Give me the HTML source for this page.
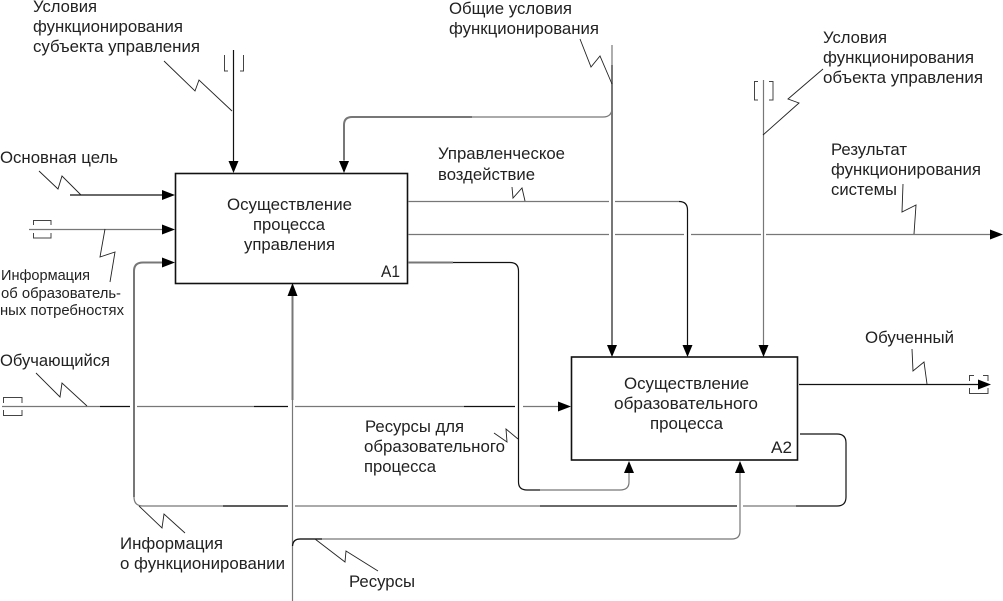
<!DOCTYPE html>
<html><head><meta charset="utf-8"><style>
html,body{margin:0;padding:0;background:#fff}
svg{display:block}
text{font-family:"Liberation Sans",sans-serif;font-size:16.8px;fill:#222}
.s{font-size:14.7px}
.l{fill:none;stroke:#111;stroke-width:1.2}
.g{fill:none;stroke:#777;stroke-width:1.2}
.t{fill:none;stroke:#777;stroke-width:2}
.q{fill:none;stroke:#222;stroke-width:.9}
.b{fill:none;stroke:#444;stroke-width:1}
</style></head><body>
<svg width="1003" height="601" viewBox="0 0 1003 601" xmlns="http://www.w3.org/2000/svg">
<rect x="175.500" y="173.500" width="232" height="110" fill="#fff" stroke="#111" stroke-width="1.6"/>
<rect x="571.500" y="357" width="226" height="103" fill="#fff" stroke="#111" stroke-width="1.6"/>

<!-- connectors -->
<path class="l" d="M233.500 50V161"/>
<path class="l" d="M70 195H164"/>
<path class="g" d="M29 229.500H164"/>
<path class="t" d="M164 262.500H143Q134 262.500 134 271V497"/>
<path class="g" d="M134 497Q134 506 143 506H288"/>
<path class="l" d="M223 506H288"/>
<path class="g" d="M295 506H540"/>
<path class="l" d="M540 506H737"/>
<path class="g" d="M743 506H796"/>
<path class="l" d="M796 506H837Q846 506 846 497V443Q846 434 837 434H800"/>
<path class="g" d="M2 406.500H100"/>
<path class="l" d="M100 406.500H130"/>
<path class="g" d="M137 406.500H254"/>
<path class="l" d="M254 406.500H288"/>
<path class="g" d="M295 406.500H464"/>
<path class="l" d="M464 406.500H515"/>
<path class="g" d="M523 406.500H560"/>
<path class="g" d="M292.500 601V296"/>
<path class="t" d="M292.500 400V296"/>
<path class="g" d="M292.500 546Q293 539 300 539H732Q740 539 740 531V473"/>
<path class="l" d="M292.500 546Q293 539 300 539H322"/>
<path class="g" d="M612 45V345"/>
<path class="t" d="M612 65V345"/>
<path class="g" d="M612 108Q612 117 603 117H352Q344 117 344 125V161"/>
<path class="t" d="M344 160V125Q344 117 352 117H472"/>
<path class="g" d="M408 201.500H609M615 201.500H679"/>
<path class="l" d="M679 201.500Q687.500 201.500 687.500 210V345"/>
<path class="g" d="M408 234.500H609M615 234.500H684M691 234.500H761M766 234.500H992"/>
<path class="t" d="M408 262.500H453"/>
<path class="l" d="M453 262.500H510Q518.500 262.500 518.500 271V482Q518.500 490 527 490H540"/>
<path class="g" d="M540 490H620Q629 490 629 482V473"/>
<path class="g" d="M763.500 80V345"/>
<path class="l" d="M799 384.500H980"/>

<!-- arrowheads -->
<g fill="#000">
<path d="M228.500 161H238.500L233.500 173Z"/>
<path d="M339 161H349L344 173Z"/>
<path d="M607 345H617L612 357Z"/>
<path d="M682.500 345H692.500L687.500 357Z"/>
<path d="M758.500 345H768.500L763.500 357Z"/>
<path d="M162 190V200L175 195Z"/>
<path d="M162 224.500V234.500L175 229.500Z"/>
<path d="M162 257.500V267.500L175 262.500Z"/>
<path d="M558 401.500V411.500L571 406.500Z"/>
<path d="M287.500 296H297.500L292.500 283Z"/>
<path d="M624 473H634L629 461Z"/>
<path d="M735 473H745L740 461Z"/>
<path d="M990 229.500V239.500L1003 234.500Z"/>
<path d="M978 379.500V389.500L991 384.500Z"/>
</g>

<!-- tunnels -->
<path class="b" d="M224.500 55V71H228M243.500 55V71H240"/>
<path class="b" d="M33.500 225V220.500H51V225M33.500 233V238H51V233"/>
<path class="b" d="M3.500 403V397.500H22V403M3.500 410V415.500H22V410"/>
<path class="b" d="M758 81.500H754.500V100H758M769 81.500H773V100H769"/>
<path class="b" d="M974 375.500H969.500V381M983 375.500H988V381M969.500 388V393.500H988V388"/>

<!-- squiggles -->
<path class="q" d="M164 61L195 91L199 80L232 111"/>
<path class="q" d="M39 171L58 189L62 176L81 195"/>
<path class="q" d="M105 229L100 257L115 252L110 282"/>
<path class="q" d="M36 373L60 397L62 383L87 406"/>
<path class="q" d="M139 506L162 528L164 514L185 533"/>
<path class="q" d="M315 539L345 562L346 551L378 571"/>
<path class="q" d="M580 39L591 67L600 56L612 84"/>
<path class="q" d="M512 187L513 198L522 188L525 201"/>
<path class="q" d="M494 433L507 442L506 429L518 439"/>
<path class="q" d="M823 69L788 99L799 103L763 135"/>
<path class="q" d="M903 184L902 212L916 205L914 234"/>
<path class="q" d="M912 349L913 371L924 362L927 384"/>

<!-- labels -->
<g lengthAdjust="spacingAndGlyphs">
<text x="33" y="12" textLength="64" lengthAdjust="spacingAndGlyphs">Условия</text>
<text x="33" y="32" textLength="150" lengthAdjust="spacingAndGlyphs">функционирования</text>
<text x="33" y="52" textLength="167" lengthAdjust="spacingAndGlyphs">субъекта управления</text>
<text x="0" y="163" textLength="118" lengthAdjust="spacingAndGlyphs">Основная цель</text>
<text class="s" x="1" y="280" textLength="89" lengthAdjust="spacingAndGlyphs">Информация</text>
<text class="s" x="1" y="298" textLength="120" lengthAdjust="spacingAndGlyphs">об образователь-</text>
<text class="s" x="0" y="315" textLength="124" lengthAdjust="spacingAndGlyphs">ных потребностях</text>
<text x="0" y="366" textLength="110" lengthAdjust="spacingAndGlyphs">Обучающийся</text>
<text x="120" y="549" textLength="103" lengthAdjust="spacingAndGlyphs">Информация</text>
<text x="120" y="569" textLength="165" lengthAdjust="spacingAndGlyphs">о функционировании</text>
<text x="349" y="587" textLength="66" lengthAdjust="spacingAndGlyphs">Ресурсы</text>
<text x="365" y="432" textLength="99" lengthAdjust="spacingAndGlyphs">Ресурсы для</text>
<text x="364" y="452" textLength="141" lengthAdjust="spacingAndGlyphs">образовательного</text>
<text x="364" y="472" textLength="72" lengthAdjust="spacingAndGlyphs">процесса</text>
<text x="227" y="210" textLength="125" lengthAdjust="spacingAndGlyphs">Осуществление</text>
<text x="253" y="230" textLength="72" lengthAdjust="spacingAndGlyphs">процесса</text>
<text x="244" y="250" textLength="91" lengthAdjust="spacingAndGlyphs">управления</text>
<text x="381" y="277" textLength="19" lengthAdjust="spacingAndGlyphs">А1</text>
<text x="624" y="389" textLength="125" lengthAdjust="spacingAndGlyphs">Осуществление</text>
<text x="614" y="409" textLength="144" lengthAdjust="spacingAndGlyphs">образовательного</text>
<text x="650" y="429" textLength="73" lengthAdjust="spacingAndGlyphs">процесса</text>
<text x="771" y="453" textLength="21" lengthAdjust="spacingAndGlyphs">А2</text>
<text x="449" y="14" textLength="123" lengthAdjust="spacingAndGlyphs">Общие условия</text>
<text x="449" y="34" textLength="150" lengthAdjust="spacingAndGlyphs">функционирования</text>
<text x="438" y="159" textLength="127" lengthAdjust="spacingAndGlyphs">Управленческое</text>
<text x="438" y="180" textLength="97" lengthAdjust="spacingAndGlyphs">воздействие</text>
<text x="823" y="43" textLength="64" lengthAdjust="spacingAndGlyphs">Условия</text>
<text x="823" y="63" textLength="151" lengthAdjust="spacingAndGlyphs">функционирования</text>
<text x="823" y="83" textLength="160" lengthAdjust="spacingAndGlyphs">объекта управления</text>
<text x="831" y="155" textLength="76" lengthAdjust="spacingAndGlyphs">Результат</text>
<text x="831" y="175" textLength="150" lengthAdjust="spacingAndGlyphs">функционирования</text>
<text x="831" y="195" textLength="66" lengthAdjust="spacingAndGlyphs">системы</text>
<text x="865" y="343" textLength="89" lengthAdjust="spacingAndGlyphs">Обученный</text>
</g>
</svg>
</body></html>
